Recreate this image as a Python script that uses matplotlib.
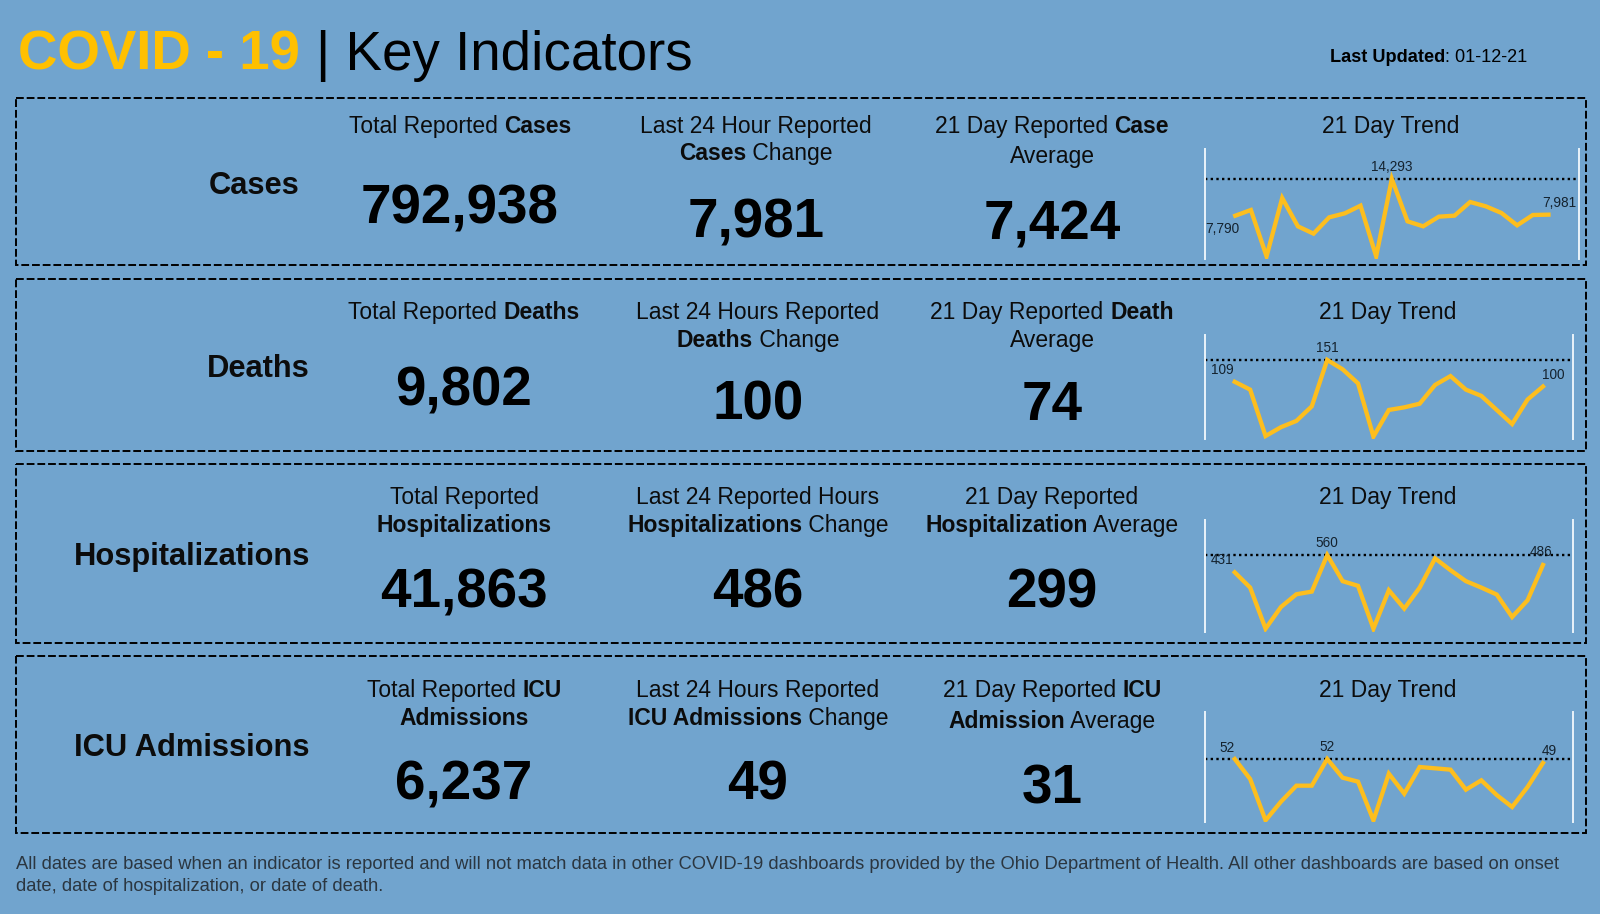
import matplotlib
matplotlib.use('Agg')
import matplotlib.pyplot as plt
from matplotlib.patches import Rectangle

BG = '#71A4CE'
YELLOW = '#FFC000'
LINE = '#FDBE1E'
W, H = 1600, 914

plt.rcParams['font.family'] = ['Liberation Sans', 'DejaVu Sans']

row_names = ['Cases', 'Deaths', 'Hospitalizations', 'ICU Admissions']

total_labels = [['Total Reported **Cases**'],
                ['Total Reported **Deaths**'],
                ['Total Reported', '**Hospitalizations**'],
                ['Total Reported **ICU**', '**Admissions**']]
change_labels = [['Last 24 Hour Reported', '**Cases** Change'],
                 ['Last 24 Hours Reported', '**Deaths** Change'],
                 ['Last 24 Reported Hours', '**Hospitalizations** Change'],
                 ['Last 24 Hours Reported', '**ICU Admissions** Change']]
avg_labels = [['21 Day Reported **Case**', 'Average'],
              ['21 Day Reported **Death**', 'Average'],
              ['21 Day Reported', '**Hospitalization** Average'],
              ['21 Day Reported **ICU**', '**Admission** Average']]

totals = ['792,938', '9,802', '41,863', '6,237']
changes = ['7,981', '100', '486', '49']
averages = ['7,424', '74', '299', '31']

cases = [7790, 8806, 605, 10930, 5915, 4617, 7508, 8216, 9573, 600, 14293,
         6800, 5915, 7626, 7803, 10222, 9455, 8275, 6092, 7921, 7981]
deaths = [109, 94, 5, 22, 34, 62, 151, 133, 106, 4, 55,
          60, 67, 103, 120, 94, 82, 55, 28, 75, 100]
hosp = [431, 317, 10, 172, 267, 287, 560, 365, 330, 10, 297,
        160, 317, 535, 447, 365, 317, 265, 97, 222, 486]
icu = [52, 37, 6, 20, 32, 32, 52, 38, 35, 6, 41,
       26, 46, 45, 44, 29, 36, 25, 16, 31, 49]
trends = [cases, deaths, hosp, icu]
peak_day = [10, 6, 6, 6]

fig = plt.figure(figsize=(W / 100, H / 100), dpi=100, facecolor=BG)
bg = fig.add_axes([0, 0, 1, 1])
bg.set_xlim(0, W)
bg.set_ylim(H, 0)
bg.axis('off')
renderer = fig.canvas.get_renderer()


def rich(x, y, s, size, ha='center', color='#0c0c0c'):
    # **word** goes bold, the runs are placed one after the other
    parts = s.split('**')
    runs = []
    for i, p in enumerate(parts):
        if p:
            runs.append(bg.text(0, y, p, fontsize=size, color=color, va='baseline', ha='left',
                                fontweight='bold' if i % 2 else 'normal'))
    widths = []
    for r in runs:
        # trailing and leading blanks are not measured, so add them by hand
        t = r.get_text()
        probe = bg.text(0, y, '.' + t + '.', fontsize=size, fontweight=r.get_fontweight())
        dot = bg.text(0, y, '..', fontsize=size, fontweight=r.get_fontweight())
        widths.append(probe.get_window_extent(renderer).width - dot.get_window_extent(renderer).width)
        probe.remove()
        dot.remove()
    total = sum(widths)
    left = x if ha == 'left' else x - total if ha == 'right' else x - total / 2
    for r, w in zip(runs, widths):
        r.set_x(left)
        left += w


# title
rich(18, 70, '**COVID - 19**', 39.3, ha='left', color=YELLOW)
rich(316, 70, '| Key Indicators', 39.4, ha='left', color='black')
rich(1330, 62, '**Last Updated**: 01-12-21', 13.1, ha='left', color='black')

# row layout, pixels from the top
box_top = [98, 279, 464, 656]
box_bottom = [265, 451, 643, 833]
name_right = [299, 310, 310, 310]
name_base = [194, 377, 565, 756]
label_base = [133, 319, 504, 697]
label_step = [27, 28, 28, 28]
avg_step = [30, 28, 28, 31]
num_base = [[223, 238, 239], [406, 420, 420], [608, 608, 608], [799, 799, 803]]
col_x = [[460, 756, 1052], [464, 758, 1052], [464, 758, 1052], [464, 758, 1052]]
trend_x = [1391, 1388, 1388, 1388]
spark_box = [(1205, 1579, 149, 259), (1205, 1573, 335, 439),
             (1205, 1573, 520, 632), (1205, 1573, 712, 822)]
spark_ylim = [(133, 19600), (-0.7, 198.8), (-15, 822), (4.75, 87.25)]
first_off = [(-13, -17), (-12, 8), (-13, 8), (-8, 7)]
last_off = [(11, 8), (10, 8), (-2, 9), (6, 8)]

for r in range(4):
    bg.add_patch(Rectangle((16, box_top[r]), 1570, box_bottom[r] - box_top[r], fill=False,
                           ec='black', lw=1.4, ls=(0, (4, 1.5))))
    rich(name_right[r], name_base[r], '**' + row_names[r] + '**', 22.2, ha='right')

    for c, (labels, num) in enumerate([(total_labels[r], totals[r]),
                                       (change_labels[r], changes[r]),
                                       (avg_labels[r], averages[r])]):
        step = avg_step[r] if c == 2 else label_step[r]
        for k, line in enumerate(labels):
            rich(col_x[r][c], label_base[r] + k * step, line, 16.5)
        rich(col_x[r][c], num_base[r][c], '**' + num + '**', 39.4, color='black')

    rich(trend_x[r], label_base[r], '21 Day Trend', 16.5)

    # sparkline
    x0, x1, y0, y1 = spark_box[r]
    ax = fig.add_axes([x0 / W, 1 - y1 / H, (x1 - x0) / W, (y1 - y0) / H])
    ax.patch.set_alpha(0)
    vals = trends[r]
    ax.plot(range(len(vals)), vals, color=LINE, lw=3.1, solid_joinstyle='miter', zorder=3)
    ax.axhline(max(vals), color='black', lw=1.7, ls=(0, (1, 1.4)), zorder=2)
    ax.set_xlim(-1.93, 21.95)
    ax.set_ylim(*spark_ylim[r])
    ax.set_xticks([])
    ax.set_yticks([])
    for side in ['top', 'bottom']:
        ax.spines[side].set_visible(False)
    for side in ['left', 'right']:
        ax.spines[side].set_color('#EAF3FA')
        ax.spines[side].set_linewidth(1.4)

    marks = [(0, first_off[r]), (peak_day[r], (0, 8)), (len(vals) - 1, last_off[r])]
    for i, off in marks:
        ax.annotate(f'{vals[i]:,}', xy=(i, vals[i]), xytext=off, textcoords='offset pixels',
                    ha='center', va='baseline', fontsize=9.8, color='#14222e',
                    annotation_clip=False, zorder=4)

# footnote
rich(16, 869, 'All dates are based when an indicator is reported and will not match data in other '
     'COVID-19 dashboards provided by the Ohio Department of Health. All other dashboards are based on onset',
     13.24, ha='left', color='#2b3640')
rich(16, 891, 'date, date of hospitalization, or date of death.', 13.24, ha='left', color='#2b3640')

fig.savefig('out.png', dpi=100, facecolor=BG)
